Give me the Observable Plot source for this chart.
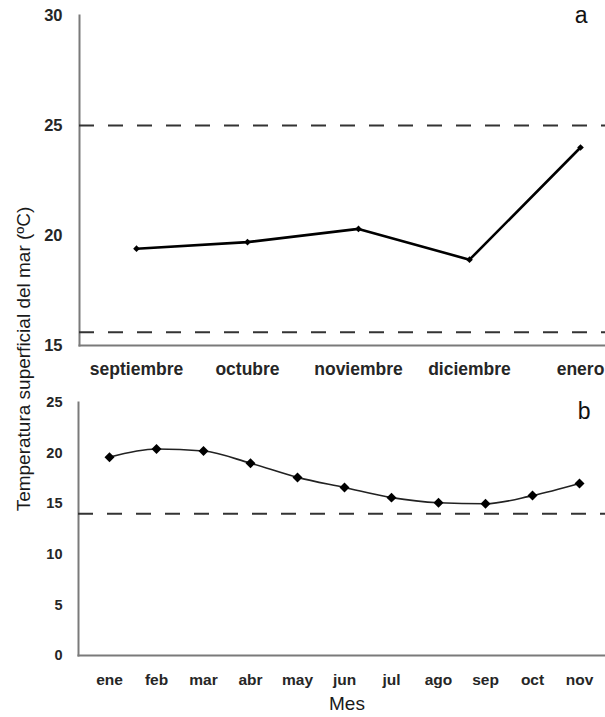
<!DOCTYPE html>
<html>
<head>
<meta charset="utf-8">
<script src="https://cdn.jsdelivr.net/npm/d3@7"></script>
<script src="https://cdn.jsdelivr.net/npm/@observablehq/plot@0.6"></script>
<style>
  html, body { margin: 0; padding: 0; background: #fff; }
  #wrap { position: relative; width: 605px; height: 717px; font-family: "Liberation Sans", Arial, sans-serif; overflow: hidden; }
  #pa { position: absolute; left: 0; top: 0; }
  #pb { position: absolute; left: 0; top: 385px; }
  #ytitle { position: absolute; left: 24px; top: 359px; transform: translate(-50%, -50%) rotate(-90deg); white-space: nowrap; font-size: 19px; color: #1a1a1a; }
  #xtitle { position: absolute; left: 347px; top: 693px; transform: translateX(-50%); font-size: 19px; color: #1a1a1a; white-space: nowrap; }
</style>
</head>
<body>
<div id="wrap">
  <div id="pa"></div>
  <div id="pb"></div>
  <div id="ytitle">Temperatura superficial del mar (ºC)</div>
  <div id="xtitle">Mes</div>
</div>
<script>
// Panel a data
const monthsA = ["septiembre", "octubre", "noviembre", "diciembre", "enero"];
const tempA = [19.4, 19.7, 20.3, 18.9, 24.0];
const refLinesA = [25, 15.6];
const yTicksA = [15, 20, 25, 30];

// Panel b data
const monthsB = ["ene", "feb", "mar", "abr", "may", "jun", "jul", "ago", "sep", "oct", "nov"];
const tempB = [19.6, 20.4, 20.2, 19.0, 17.6, 16.6, 15.6, 15.1, 15.0, 15.8, 17.0];
const refLinesB = [14];
const yTicksB = [0, 5, 10, 15, 20, 25];

const dataA = monthsA.map((m, i) => ({mes: m, t: tempA[i]}));
const dataB = monthsB.map((m, i) => ({mes: m, t: tempB[i]}));

const axisColor = "#7a7a7a";
const textColor = "#262626";

const plotA = Plot.plot({
  width: 605,
  height: 385,
  marginLeft: 79,
  marginRight: 0,
  marginTop: 15,
  marginBottom: 40,
  style: {fontFamily: "Liberation Sans, Arial, sans-serif", color: textColor, background: "#fff"},
  x: {type: "point", domain: monthsA, padding: 0.369, align: 0.695},
  y: {domain: [15, 30]},
  marks: [
    Plot.frame({anchor: "left", stroke: axisColor, strokeWidth: 2}),
    Plot.frame({anchor: "bottom", stroke: axisColor, strokeWidth: 2}),
    Plot.ruleY(refLinesA, {stroke: "#333", strokeWidth: 2, strokeDasharray: "15,14"}),
    Plot.axisY({ticks: yTicksA, tickSize: 0, tickPadding: 17, fontSize: 16.5, fontWeight: "bold", label: null}),
    Plot.axisX({tickSize: 0, tickPadding: 17, fontSize: 17.5, fontWeight: "bold", label: null}),
    Plot.line(dataA, {x: "mes", y: "t", stroke: "#000", strokeWidth: 2.6}),
    Plot.dot(dataA, {x: "mes", y: "t", symbol: "diamond2", r: 3, fill: "#000", stroke: "none"}),
    Plot.text(["a"], {frameAnchor: "top-right", text: d => d, textAnchor: "end", lineAnchor: "middle", dx: -18, dy: 0, fontSize: 23, fill: "#111"})
  ]
});
document.getElementById("pa").appendChild(plotA);

const plotB = Plot.plot({
  width: 605,
  height: 332,
  marginLeft: 78,
  marginRight: 0,
  marginTop: 17,
  marginBottom: 62,
  style: {fontFamily: "Liberation Sans, Arial, sans-serif", color: textColor, background: "#fff"},
  x: {type: "point", domain: monthsB, padding: 0.505, align: 0.538},
  y: {domain: [0, 25]},
  marks: [
    Plot.frame({anchor: "left", stroke: axisColor, strokeWidth: 2}),
    Plot.frame({anchor: "bottom", stroke: axisColor, strokeWidth: 2}),
    Plot.ruleY(refLinesB, {stroke: "#333", strokeWidth: 2, strokeDasharray: "15,14"}),
    Plot.axisY({ticks: yTicksB, tickSize: 0, tickPadding: 16, fontSize: 14.5, fontWeight: "bold", label: null}),
    Plot.axisX({tickSize: 0, tickPadding: 18, fontSize: 15.5, fontWeight: "bold", label: null}),
    Plot.line(dataB, {x: "mes", y: "t", stroke: "#222", strokeWidth: 1.6, curve: "monotone-x"}),
    Plot.dot(dataB, {x: "mes", y: "t", symbol: "diamond2", r: 4.5, fill: "#000", stroke: "none"}),
    Plot.text(["b"], {frameAnchor: "top-right", text: d => d, textAnchor: "end", lineAnchor: "middle", dx: -15, dy: 9, fontSize: 23, fill: "#111"})
  ]
});
document.getElementById("pb").appendChild(plotB);
</script>
</body>
</html>
